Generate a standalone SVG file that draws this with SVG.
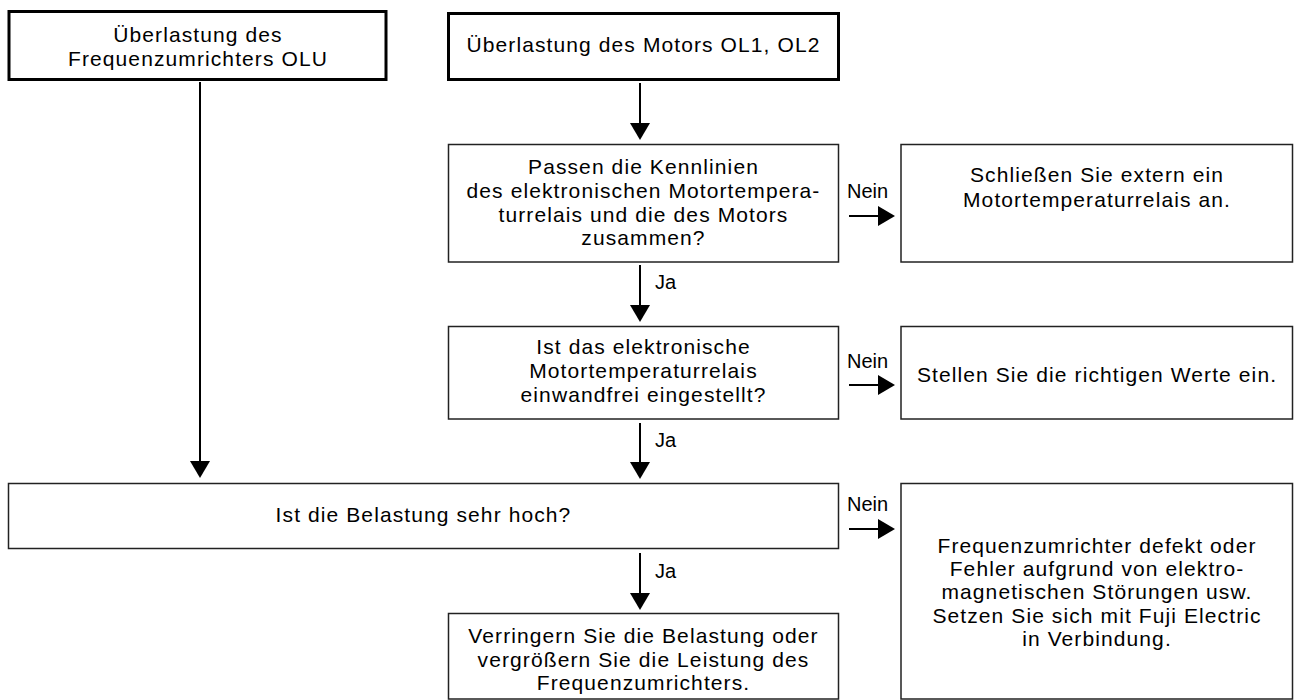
<svg xmlns="http://www.w3.org/2000/svg" width="1294" height="700" viewBox="0 0 1294 700">
<style>
  .bg{fill:#ffffff}
  .thick{fill:#ffffff;stroke:#000000;stroke-width:3}
  .thin{fill:#ffffff;stroke:#222222;stroke-width:1.5}
  .t{font-family:"Liberation Sans",Arial,sans-serif;font-size:21px;letter-spacing:1.1px;fill:#000000;text-anchor:middle}
  .lbl{font-family:"Liberation Sans",Arial,sans-serif;font-size:20px;fill:#000000}
  .conn{stroke:#000000;stroke-width:2;fill:none;marker-end:url(#ah)}
</style>
<defs>
  <marker id="ah" markerUnits="userSpaceOnUse" markerWidth="20" markerHeight="20" viewBox="0 0 17 20" refX="7" refY="10" orient="auto">
    <path d="M0,0 L17,10 L0,20 z" fill="#000000"/>
  </marker>
</defs>
<rect class="bg" x="0" y="0" width="1294" height="700"/>

<g id="connectors">
  <line class="conn" x1="640" y1="83" x2="640" y2="130"/>
  <line class="conn" x1="200" y1="82" x2="200" y2="468"/>
  <line class="conn" x1="640" y1="265" x2="640" y2="312"/>
  <line class="conn" x1="640" y1="423" x2="640" y2="469"/>
  <line class="conn" x1="640" y1="553" x2="640" y2="600"/>
  <line class="conn" x1="849" y1="216" x2="885" y2="216"/>
  <line class="conn" x1="849" y1="385" x2="885" y2="385"/>
  <line class="conn" x1="849" y1="529" x2="885" y2="529"/>
  <text class="lbl" x="655" y="289">Ja</text>
  <text class="lbl" x="655" y="447">Ja</text>
  <text class="lbl" x="655" y="578">Ja</text>
  <text class="lbl" x="847" y="198">Nein</text>
  <text class="lbl" x="847" y="368">Nein</text>
  <text class="lbl" x="847" y="511">Nein</text>
</g>

<g id="n-olu">
  <rect class="thick" x="9" y="11.5" width="377" height="68"/>
  <text class="t" x="198" y="42">Überlastung des</text>
  <text class="t" x="198" y="66">Frequenzumrichters OLU</text>
</g>

<g id="n-motor">
  <rect class="thick" x="448.5" y="13.5" width="390" height="66"/>
  <text class="t" x="643.5" y="52">Überlastung des Motors OL1, OL2</text>
</g>

<g id="n-kennlinien">
  <rect class="thin" x="448.5" y="144.5" width="390" height="117.5"/>
  <text class="t" x="643.5" y="174">Passen die Kennlinien</text>
  <text class="t" x="643.5" y="198">des elektronischen Motortempera-</text>
  <text class="t" x="643.5" y="222">turrelais und die des Motors</text>
  <text class="t" x="643.5" y="245">zusammen?</text>
</g>

<g id="n-extern">
  <rect class="thin" x="901" y="144.5" width="391.5" height="117.5"/>
  <text class="t" x="1097" y="182">Schließen Sie extern ein</text>
  <text class="t" x="1097" y="207">Motortemperaturrelais an.</text>
</g>

<g id="n-eingestellt">
  <rect class="thin" x="448.5" y="326.5" width="390" height="92.5"/>
  <text class="t" x="643.5" y="354">Ist das elektronische</text>
  <text class="t" x="643.5" y="378">Motortemperaturrelais</text>
  <text class="t" x="643.5" y="402">einwandfrei eingestellt?</text>
</g>

<g id="n-werte">
  <rect class="thin" x="901" y="326.5" width="391.5" height="92.5"/>
  <text class="t" x="1097" y="382">Stellen Sie die richtigen Werte ein.</text>
</g>

<g id="n-belastung">
  <rect class="thin" x="8.5" y="483.5" width="830" height="65"/>
  <text class="t" x="423.5" y="522">Ist die Belastung sehr hoch?</text>
</g>

<g id="n-defekt">
  <rect class="thin" x="901" y="483.5" width="391.5" height="215.5"/>
  <text class="t" x="1097" y="553">Frequenzumrichter defekt oder</text>
  <text class="t" x="1097" y="576">Fehler aufgrund von elektro-</text>
  <text class="t" x="1097" y="599">magnetischen Störungen usw.</text>
  <text class="t" x="1097" y="623">Setzen Sie sich mit Fuji Electric</text>
  <text class="t" x="1097" y="646">in Verbindung.</text>
</g>

<g id="n-verringern">
  <rect class="thin" x="448.5" y="613.5" width="390" height="85.5"/>
  <text class="t" x="643.5" y="643">Verringern Sie die Belastung oder</text>
  <text class="t" x="643.5" y="667">vergrößern Sie die Leistung des</text>
  <text class="t" x="643.5" y="690">Frequenzumrichters.</text>
</g>
</svg>
